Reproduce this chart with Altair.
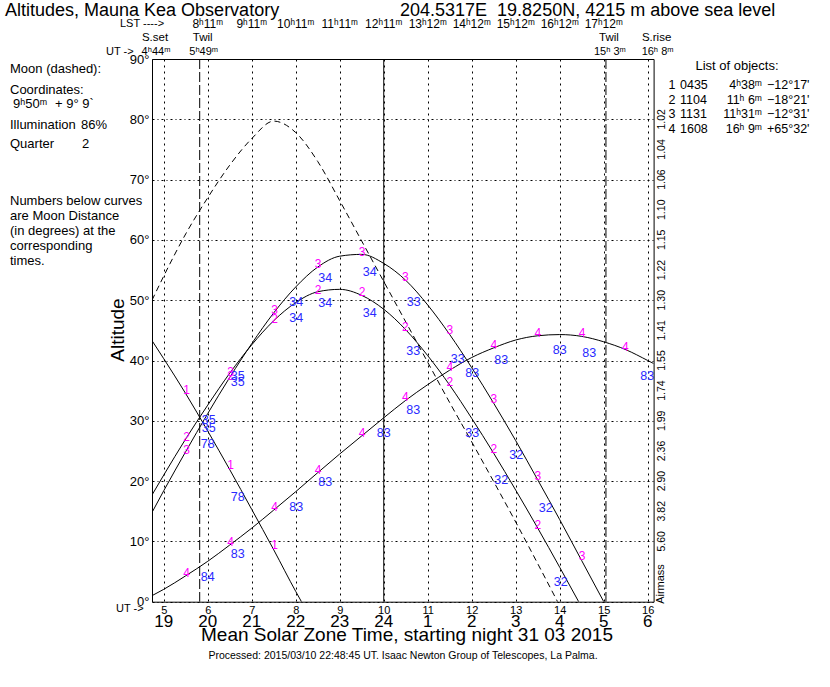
import altair as alt
import pandas as pd

FONT = "Liberation Sans"
W, H = 501.6, 542.7          # plot area
LEFT, TOP = 152, 59          # plot origin on the page

# ---------------- data ----------------
x_domain = [4.733, 16.133]   # UT hours: sunset 4h44m .. sunrise 16h08m
y_domain = [0, 90]

ut_ticks = [5, 6, 7, 8, 9, 10, 11, 12, 13, 14, 15, 16]
zone_labels = ["19", "20", "21", "22", "23", "24", "1", "2", "3", "4", "5", "6"]
alt_ticks = [0, 10, 20, 30, 40, 50, 60, 70, 80, 90]

lst_ut = [6, 7, 8, 9, 10, 11, 12, 13, 14, 15]
lst_labels = ["8ʰ11ᵐ", "9ʰ11ᵐ", "10ʰ11ᵐ", "11ʰ11ᵐ", "12ʰ11ᵐ",
              "13ʰ12ᵐ", "14ʰ12ᵐ", "15ʰ12ᵐ", "16ʰ12ᵐ", "17ʰ12ᵐ"]

event_ut = [4.733, 5.817, 15.05, 16.133]
event_names = ["S.set", "Twil", "Twil", "S.rise"]
event_times = ["4ʰ44ᵐ", "5ʰ49ᵐ", "15ʰ 3ᵐ", "16ʰ 8ᵐ"]

twilight_ut = [5.817, 15.05]
midnight_ut = [10]

airmass_alt = [80, 75, 70, 65, 60, 55, 50, 45, 40, 35, 30, 25, 20, 15, 10]
airmass_labels = ["1.02", "1.04", "1.06", "1.10", "1.15", "1.22", "1.30", "1.41",
                  "1.55", "1.74", "1.99", "2.36", "2.90", "3.82", "5.60"]

obj_ids = ["1", "2", "3", "4"]
obj_names = ["0435", "1104", "1131", "1608"]
obj_ra = ["4ʰ38ᵐ", "11ʰ 6ᵐ", "11ʰ31ᵐ", "16ʰ 9ᵐ"]
obj_dec = ["−12°17'", "−18°21'", "−12°31'", "+65°32'"]

# altitude curves (UT hour, altitude deg)
obj1_ut = [4.733, 5.0, 5.5, 6.0, 6.5, 7.0, 7.5, 8.0, 8.13]
obj1_alt = [43.3, 40.3, 34.5, 28.3, 21.9, 15.3, 8.6, 1.7, 0.0]

obj2_ut = [4.733, 5.0, 5.5, 6.0, 6.5, 7.0, 7.5, 8.0, 8.5, 9.0, 9.5, 10.0, 10.5,
           11.0, 11.5, 12.0, 12.5, 13.0, 13.5, 14.0, 14.43]
obj2_alt = [17.7, 21.0, 27.0, 32.6, 37.9, 42.6, 46.6, 49.6, 51.4, 51.8, 50.8, 48.5,
            45.1, 40.8, 35.9, 30.4, 24.6, 18.5, 12.2, 5.7, 0.0]

obj3_ut = [4.733, 5.0, 5.5, 6.0, 6.5, 7.0, 7.5, 8.0, 8.5, 9.0, 9.5, 10.0, 10.5,
           11.0, 11.5, 12.0, 12.5, 13.0, 13.5, 14.0, 14.5, 15.0]
obj3_alt = [14.8, 18.4, 24.9, 31.2, 37.2, 42.8, 47.9, 52.2, 55.5, 57.3, 57.6, 56.1,
            53.3, 49.2, 44.3, 38.8, 32.9, 26.7, 20.2, 13.6, 6.8, 0.0]

obj4_ut = [4.733, 5.0, 5.5, 6.0, 6.5, 7.0, 7.5, 8.0, 8.5, 9.0, 9.5, 10.0, 10.5,
           11.0, 11.5, 12.0, 12.5, 13.0, 13.5, 14.0, 14.5, 15.0, 15.5, 16.0, 16.133]
obj4_alt = [1.0, 2.05, 4.3, 6.7, 9.4, 12.2, 15.2, 18.25, 21.4, 24.5, 27.5, 30.5,
            33.4, 36.0, 38.4, 40.5, 42.1, 43.4, 44.1, 44.3, 44.0, 43.1, 41.8, 40.0, 39.5]

moon_ut = [4.733, 5.0, 5.5, 6.0, 6.5, 7.0, 7.5, 8.0, 8.5, 9.0, 9.5, 10.0, 10.5,
           11.0, 11.5, 12.0, 12.5, 13.0, 13.5, 13.95]
moon_alt = [50.0, 54.0, 61.0, 67.0, 72.4, 76.8, 79.7, 77.8, 73.0, 66.5, 59.8, 53.1,
            46.4, 39.7, 33.0, 26.5, 19.9, 13.2, 6.3, 0.0]

# object-number labels along the curves
num_text = ["1", "1", "1", "2", "3", "3", "2", "3", "2", "3", "2", "3", "2", "3", "2",
            "3", "2", "3", "2", "3", "2", "3",
            "4", "4", "4", "4", "4", "4", "4", "4", "4", "4", "4"]
num_ut = [5.52, 6.52, 7.52, 5.52, 5.52, 6.52, 6.52, 7.52, 7.52, 8.51, 8.51, 9.51, 9.51,
          10.49, 10.49, 11.50, 11.50, 12.50, 12.50, 13.50, 13.50, 14.51,
          5.52, 6.52, 7.52, 8.51, 9.51, 10.49, 11.50, 12.50, 13.50, 14.51, 15.49]
num_alt = [35.1, 22.7, 9.4, 27.3, 25.2, 38.1, 37.4, 48.4, 46.8, 56.0, 51.7, 58.0, 51.4,
           53.9, 45.6, 45.0, 36.5, 33.6, 25.3, 20.8, 12.8, 7.5,
           4.8, 9.95, 15.75, 21.8, 27.9, 33.9, 39.0, 42.6, 44.6, 44.6, 42.3]

# moon-distance labels (degrees)
dist_text = ["35", "35", "78", "35", "35", "78", "84", "83", "83", "83", "83",
             "34", "34", "34", "34", "34", "34", "33", "33", "33", "33",
             "83", "83", "83", "83", "83", "83", "32", "32", "32", "32"]
dist_ut = [6.02, 6.02, 6.00, 6.68, 6.68, 6.68, 6.00, 6.68, 8.01, 8.67, 10.00,
           8.01, 8.01, 8.67, 8.67, 9.68, 9.68, 10.68, 10.67, 11.68, 12.01,
           10.67, 12.01, 12.67, 14.00, 14.67, 15.99, 13.01, 12.67, 13.68, 14.02]
dist_alt = [30.1, 28.8, 26.2, 37.4, 36.5, 17.4, 4.15, 7.9, 15.75, 19.9, 27.9,
            49.65, 47.0, 53.7, 49.5, 54.7, 47.8, 49.65, 41.5, 40.2, 28.0,
            31.8, 38.0, 40.1, 41.7, 41.3, 37.4, 24.3, 20.2, 15.5, 3.3]

# ---------------- frames ----------------
obj_df = pd.concat([
    pd.DataFrame({"obj": k, "ut": u, "alt": a})
    for k, u, a in [("1", obj1_ut, obj1_alt), ("2", obj2_ut, obj2_alt),
                    ("3", obj3_ut, obj3_alt), ("4", obj4_ut, obj4_alt)]
])
moon_df = pd.DataFrame({"ut": moon_ut, "alt": moon_alt})
num_df = pd.DataFrame({"t": num_text, "ut": num_ut, "alt": num_alt})
dist_df = pd.DataFrame({"t": dist_text, "ut": dist_ut, "alt": dist_alt})

X = alt.X("ut:Q", scale=alt.Scale(domain=x_domain, nice=False, zero=False),
          axis=alt.Axis(values=ut_ticks, grid=True, gridDash=[2, 4], gridColor="black",
                        gridOpacity=1, gridWidth=1, ticks=False, domain=False,
                        labelFontSize=11, labelFont=FONT, labelColor="black",
                        labelPadding=3, labelAngle=0, labelFlush=False,
                        labelOverlap=False, format="d", title=None))
Y = alt.Y("alt:Q", scale=alt.Scale(domain=y_domain, nice=False, zero=False),
          axis=alt.Axis(values=alt_ticks, grid=True, gridDash=[2, 3, 1, 3],
                        gridColor="black", gridOpacity=1, gridWidth=1, ticks=False,
                        domain=False, labelExpr="datum.value + '°'", labelFontSize=13,
                        labelFont=FONT, labelColor="black", labelPadding=3,
                        labelFlush=False, labelOverlap=False, title=None))


def txt(s, x, y, size=13, align="left", color="black", angle=0):
    return alt.Chart(alt.Data(values=[{}])).mark_text(
        align=align, baseline="middle", fontSize=size, font=FONT, color=color,
        angle=angle
    ).encode(x=alt.value(x - LEFT), y=alt.value(y - TOP), text=alt.value(s))


layers = []
layers.append(alt.Chart(obj_df).mark_line(color="black", strokeWidth=1,
                                          interpolate="monotone", clip=True)
              .encode(x=X, y=Y, detail="obj:N"))
layers.append(alt.Chart(moon_df).mark_line(color="black", strokeWidth=1,
                                           strokeDash=[6, 4], interpolate="monotone",
                                           clip=True)
              .encode(x=X, y=Y))
layers.append(alt.Chart(pd.DataFrame({"ut": midnight_ut})).mark_rule(
    color="black", strokeWidth=1).encode(x=X))
layers.append(alt.Chart(pd.DataFrame({"ut": twilight_ut})).mark_rule(
    color="black", strokeWidth=1, strokeDash=[10, 3]).encode(x=X))
layers.append(alt.Chart(num_df).mark_text(color="#ff00ff", fontSize=12, font=FONT)
              .encode(x=X, y=Y, text="t:N"))
layers.append(alt.Chart(dist_df).mark_text(color="#2a2aff", fontSize=12.5, font=FONT)
              .encode(x=X, y=Y, text="t:N"))

# airmass scale on the right
layers.append(alt.Chart(pd.DataFrame({"alt": airmass_alt, "t": airmass_labels}))
              .mark_text(fontSize=10.5, font=FONT, angle=270, color="black")
              .encode(x=alt.value(W + 8), y=Y, text="t:N"))

# zone time row under the UT labels
layers.append(alt.Chart(pd.DataFrame({"ut": ut_ticks, "t": zone_labels}))
              .mark_text(fontSize=17, font=FONT, color="black")
              .encode(x=X, y=alt.value(622 - TOP), text="t:N"))

# LST row and sun events on top
layers.append(alt.Chart(pd.DataFrame({"ut": lst_ut, "t": lst_labels}))
              .mark_text(fontSize=12, font=FONT, color="black")
              .encode(x=X, y=alt.value(24 - TOP), text="t:N"))
layers.append(alt.Chart(pd.DataFrame({"ut": event_ut, "t": event_names}))
              .mark_text(fontSize=11.5, font=FONT, color="black", dx=3)
              .encode(x=X, y=alt.value(38 - TOP), text="t:N"))
layers.append(alt.Chart(pd.DataFrame({"ut": event_ut, "t": event_times}))
              .mark_text(fontSize=11, font=FONT, color="black", dx=4)
              .encode(x=X, y=alt.value(52 - TOP), text="t:N"))

# static texts
layers += [
    txt("Altitudes, Mauna Kea Observatory", 5, 11, 18),
    txt("204.5317E\u00a0\u00a019.8250N, 4215 m above sea level", 400, 11, 18),
    txt("LST ---->", 120, 24, 11),
    txt("UT ->", 106, 52, 11),
    txt("Moon (dashed):", 10, 69),
    txt("Coordinates:", 10, 90),
    txt("9ʰ50ᵐ", 13, 104),
    txt("+ 9° 9`", 55, 104),
    txt("Illumination", 10, 125),
    txt("86%", 81, 125),
    txt("Quarter", 10, 144),
    txt("2", 82, 144),
    txt("Numbers below curves", 10, 201),
    txt("are Moon Distance", 10, 216),
    txt("(in degrees) at the", 10, 231),
    txt("corresponding", 10, 246),
    txt("times.", 10, 261),
    txt("Altitude", 118, 330, 19, "center", angle=270),
    txt("Airmass", 661, 584, 11, "center", angle=270),
    txt("List of objects:", 737, 66, 13, "center"),
    txt("UT ->", 116, 609, 11),
    txt("Mean Solar Zone Time, starting night 31 03 2015", 407, 635, 19, "center"),
    txt("Processed: 2015/03/10 22:48:45 UT. Isaac Newton Group of Telescopes, La Palma.",
        403, 656, 10.5, "center"),
]
for i in range(len(obj_ids)):
    ry = 85 + 14.7 * i
    layers += [
        txt(obj_ids[i], 672, ry, 12.5, "center"),
        txt(obj_names[i], 680, ry, 12.5, "left"),
        txt(obj_ra[i], 762, ry, 12.5, "right"),
        txt(obj_dec[i], 767, ry, 12.5, "left"),
    ]

chart = alt.layer(*layers).properties(
    width=W, height=H,
    autosize=alt.AutoSizeParams(type="none"),
    padding={"left": LEFT, "top": TOP, "right": 830 - LEFT - W, "bottom": 687 - TOP - H},
    background="white",
).configure_view(stroke="black", strokeWidth=1)

chart.save("out.html", embed_options={"renderer": "svg", "actions": False})
